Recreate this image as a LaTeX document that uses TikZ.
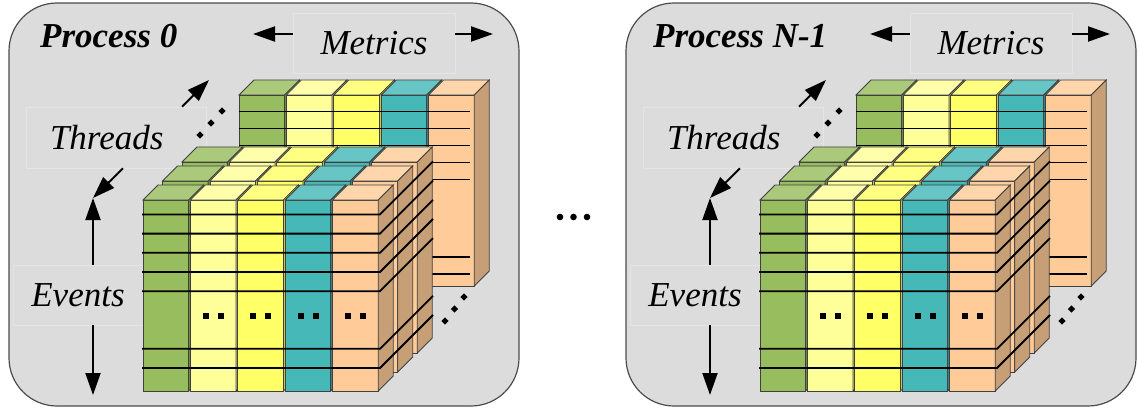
\documentclass[tikz,border=0pt]{standalone}
\usepackage{fontspec}
\setmainfont{Liberation Serif}
\newfontfamily\lblfont{Liberation Serif}
\usetikzlibrary{arrows.meta,positioning,calc}

\definecolor{panelbg}{HTML}{DCDCDC}
\definecolor{boxline}{HTML}{E5E5E5}
\definecolor{grncol}{HTML}{98BD5E}
\definecolor{lyelcol}{HTML}{FFFF99}
\definecolor{yelcol}{HTML}{FFFF66}
\definecolor{tealcol}{HTML}{47B8B8}
\definecolor{orgcol}{HTML}{FFCC99}

% one column of a slab: x, y, width, height, colour
\newcommand{\colbox}[5]{%
  \filldraw[blk,fill=#5] (#1,#2) rectangle ++(#3,#4);
  \filldraw[blk,fill=#5!82!white] (#1,#2) -- ++(15,-15) -- ++(#3,0) -- ++(-15,15) -- cycle;
  \filldraw[blk,fill=#5!78!black] (#1+#3,#2) -- ++(15,-15) -- ++(0,#4) -- ++(-15,15) -- cycle;
}
% one slab of five metric columns: x, y, height
\newcommand{\slab}[3]{%
  \foreach \c [count=\k from 0] in {grncol,lyelcol,yelcol,tealcol,orgcol}
    {\colbox{#1+\k*47.4}{#2}{45.6}{#3}{\c}}
}
\newcommand{\dia}[2]{\fill (#1,#2) +(0,-3.6) -- +(3.6,0) -- +(0,3.6) -- +(-3.6,0) -- cycle;}

\tikzset{
  blk/.style={draw=black!75,line width=0.8pt},
  panel/.style={fill=panelbg,draw=black!70,line width=1.2pt,rounded corners=48pt},
  lbl/.style={draw=boxline,line width=0.6pt,inner sep=0pt,font=\fontsize{35}{40}\selectfont\lblfont\itshape},
  evline/.style={line width=1.8pt},
  bigarrow/.style={line width=2pt,arrows={-Triangle[length=22pt,width=15pt]}}
}

\begin{document}
\begin{tikzpicture}[x=1pt,y=-1pt]
  \useasboundingbox (0,0) rectangle (1138,409);

  \foreach \px/\ptitle/\tx in {0/Process 0/40,617/Process N-1/36} {
  \begin{scope}[shift={(\px,0)}]
    \draw[panel] (9,3) rectangle (519,406);

    \node[font=\fontsize{35}{40}\selectfont\lblfont\bfseries\itshape,anchor=base west,inner sep=0pt] (ttl\px) at (\tx,48) {\ptitle};
    \node[lbl,minimum width=162pt,minimum height=60pt] (met\px) at (374,43) {Metrics};
    \node[lbl,minimum height=61pt,text width=132pt,inner xsep=24pt,align=left] (thr\px) at (116,137.5) {Threads};
    \node[lbl,minimum width=130pt,minimum height=60pt] (evt\px) at (78,295) {Events};

    \coordinate (mL\px) at (253,34);
    \coordinate (mR\px) at (493,34);
    \coordinate (tU\px) at (209,80);
    \coordinate (crn\px) at (93,198);
    \coordinate (eD\px) at (93,395);
    \draw[bigarrow] (met\px.west |- mL\px) -- (mL\px);
    \draw[bigarrow] (met\px.east |- mR\px) -- (mR\px);
    \draw[bigarrow] ([xshift=66pt]thr\px.north) -- (tU\px);
    \draw[bigarrow] ([xshift=7pt]thr\px.south) -- (crn\px);
    \draw[bigarrow] (crn\px |- evt\px.north) -- (crn\px);
    \draw[bigarrow] (crn\px |- evt\px.south) -- (eD\px);

    % back slab
    \slab{239}{95}{191}
    \foreach \y in {111.5,128.5,145.5,162.5,179.5,257,274}
      \draw[evline] (239,\y) -- (470,\y);

    % front slabs
    \slab{182}{162}{191}
    \slab{162.5}{181}{191}
    \slab{143}{200}{191}
    \foreach \y in {214.4,233.6,252.8,272,291.2,348.8,368}
      \draw[evline] (142,\y) -- (380,\y) -- ++(53,-53);

    \foreach \k in {1,2,3,4} {
      \fill (143+\k*47.4+23-7.5-3,313) rectangle ++(6,6);
      \fill (143+\k*47.4+23+7.5-3,313) rectangle ++(6,6);
    }

    \foreach \k in {0,1,2} {
      \dia{200+\k*11}{135-\k*12}
      \dia{445+\k*9.5}{321-\k*12}
    }
  \end{scope}
  }

  \foreach \k in {0,1,2}
    \fill (560+\k*13.5,217) circle (3.3);
\end{tikzpicture}
\end{document}
